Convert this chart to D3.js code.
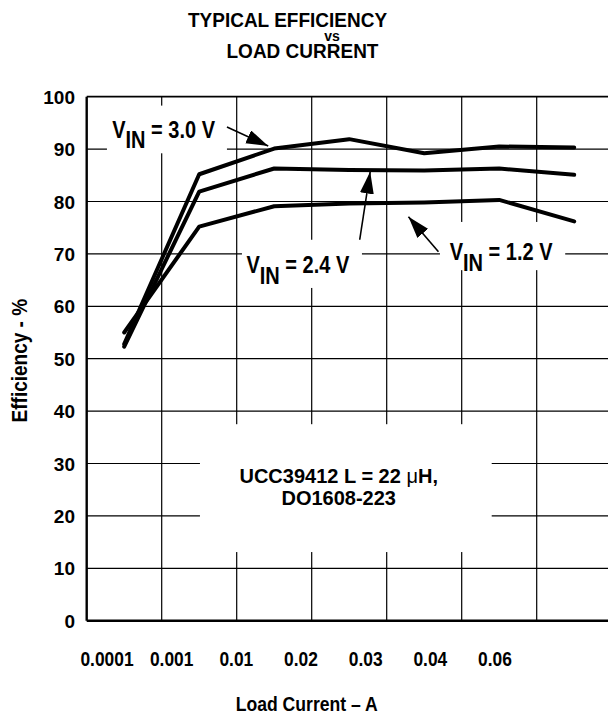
<!DOCTYPE html>
<html>
<head>
<meta charset="utf-8">
<script src="https://cdn.jsdelivr.net/npm/d3@7"></script>
<style>
  body { margin: 0; background: #fff; }
  text { font-family: "Liberation Sans", Arial, sans-serif; font-weight: bold; fill: #000; }
</style>
</head>
<body>
<script>
// Step 1: chart data
//= ================================
var loadCurrent = ["0.0001", "0.001", "0.01", "0.02", "0.03", "0.04", "0.06"];
var eff30 = [52.8, 85.2, 90.1, 91.9, 89.2, 90.5, 90.3];
var eff24 = [52.3, 81.9, 86.3, 86.0, 85.9, 86.3, 85.1];
var eff12 = [55.0, 75.2, 79.1, 79.6, 79.8, 80.3, 76.2];
var yTicks = [0, 10, 20, 30, 40, 50, 60, 70, 80, 90, 100];
var seriesLabels = ["3.0 V", "2.4 V", "1.2 V"];

// Step 2: sizes
//= ================================
var svgWidth = 608;
var svgHeight = 717;

var margin = {
  top: 96.7,
  left: 86.7,
  bottom: 96.3
};
var plotWidth = 525;
var height = svgHeight - margin.top - margin.bottom;

var svg = d3.select("body")
  .append("svg")
  .attr("width", svgWidth)
  .attr("height", svgHeight);

// Step 3: scales
//= ================================
var x = d3.scaleBand()
  .domain(loadCurrent)
  .range([margin.left, margin.left + plotWidth]);
var bw = x.bandwidth();

// tick labels sit on their own spacing in the original
var xLabel = d3.scalePoint()
  .domain(loadCurrent)
  .range([107, 495]);

var y = d3.scaleLinear()
  .domain([0, 100])
  .range([margin.top + height, margin.top]);

// fractional category index -> pixel (for annotations)
function xAt(i) {
  return margin.left + (i + 0.5) * bw;
}

// text that is a bit taller than the font (the original is stretched)
function addText(px, py, str, size, anchor, sy) {
  return svg.append("text")
    .attr("transform", `translate(${px},${py}) scale(1,${sy || 1})`)
    .attr("text-anchor", anchor || "start")
    .style("font-size", size + "px")
    .text(str);
}

// Step 4: grid
//= ================================
var grid = svg.append("g");

grid.selectAll("line.h")
  .data(yTicks.slice(1))
  .enter()
  .append("line")
  .attr("x1", margin.left)
  .attr("x2", margin.left + plotWidth)
  .attr("y1", d => y(d))
  .attr("y2", d => y(d))
  .attr("stroke", "#000")
  .attr("stroke-width", d => d === 100 ? 1.8 : 1.2);

grid.selectAll("line.v")
  .data(loadCurrent.slice(1))
  .enter()
  .append("line")
  .attr("x1", d => x(d))
  .attr("x2", d => x(d))
  .attr("y1", y(100))
  .attr("y2", y(0))
  .attr("stroke", "#000")
  .attr("stroke-width", 1.2);

// white boxes behind the labels
var boxes = [
  [-0.23, 1.37, 98.3, 89.2],
  [1.57, 3.17, 72.7, 63.5],
  [4.21, 5.88, 76.1, 66.9],
  [1.01, 4.90, 37.5, 13.1]
];
svg.selectAll("rect.box")
  .data(boxes)
  .enter()
  .append("rect")
  .attr("x", d => xAt(d[0]))
  .attr("y", d => y(d[2]))
  .attr("width", d => xAt(d[1]) - xAt(d[0]))
  .attr("height", d => y(d[3]) - y(d[2]))
  .attr("fill", "#fff");

// axes frame (left + bottom heavier)
svg.append("line")
  .attr("x1", margin.left).attr("x2", margin.left)
  .attr("y1", y(100)).attr("y2", y(0))
  .attr("stroke", "#000").attr("stroke-width", 2.4);
svg.append("line")
  .attr("x1", margin.left).attr("x2", margin.left + plotWidth)
  .attr("y1", y(0)).attr("y2", y(0))
  .attr("stroke", "#000").attr("stroke-width", 2.4);

// Step 5: curves
//= ================================
var line = d3.line()
  .x((d, i) => x(loadCurrent[i]) + bw / 2)
  .y(d => y(d));

svg.selectAll("path.curve")
  .data([eff30, eff24, eff12])
  .enter()
  .append("path")
  .attr("d", d => line(d))
  .attr("fill", "none")
  .attr("stroke", "#000")
  .attr("stroke-width", 4)
  .attr("stroke-linejoin", "round")
  .attr("stroke-linecap", "round");

// Step 6: arrows
//= ================================
svg.append("defs").append("marker")
  .attr("id", "head")
  .attr("markerUnits", "userSpaceOnUse")
  .attr("markerWidth", 24)
  .attr("markerHeight", 15)
  .attr("refX", 22)
  .attr("refY", 7)
  .attr("orient", "auto")
  .append("path")
  .attr("d", "M0,0 L22,7 L0,14 Z")
  .attr("fill", "#000");

var arrows = [
  [1.37, 94.2, 1.92, 90.6],
  [3.14, 72.7, 3.28, 85.7],
  [4.19, 70.4, 3.79, 77.1]
];
svg.selectAll("line.arrow")
  .data(arrows)
  .enter()
  .append("line")
  .attr("x1", d => xAt(d[0]))
  .attr("y1", d => y(d[1]))
  .attr("x2", d => xAt(d[2]))
  .attr("y2", d => y(d[3]))
  .attr("stroke", "#000")
  .attr("stroke-width", 1.6)
  .attr("marker-end", "url(#head)");

// Step 7: V_IN labels
//= ================================
var labelPos = [[-0.16, 92.1], [1.63, 66.3], [4.34, 68.8]];
labelPos.forEach(function(p, k) {
  var t = addText(xAt(p[0]), y(p[1]), "", 20, "start", 1.15);
  t.append("tspan").text("V");
  t.append("tspan").attr("dy", 9).text("IN");
  t.append("tspan").attr("dy", -9).text(" = " + seriesLabels[k]);
});

// note text
var note = addText(xAt(2.86), y(26.3), "", 20, "middle", 1);
note.append("tspan").text("UCC39412 L = 22 ");
note.append("tspan").style("font-weight", "normal").text("\u03bc");
note.append("tspan").text("H,");
addText(xAt(2.86), y(22.1), "DO1608-223", 20, "middle", 1);

// Step 8: tick labels
//= ================================
yTicks.forEach(function(d) {
  addText(75, y(d) + 7, d, 19, "end", 1);
});

loadCurrent.forEach(function(d) {
  addText(xLabel(d), 666, d, 17.4, "middle", 1.2);
});

// Step 9: titles
//= ================================
addText(287.5, 26.7, "TYPICAL EFFICIENCY", 19, "middle", 1.1);
addText(332, 41, "vs", 14, "middle", 1);
addText(302.5, 58.3, "LOAD CURRENT", 19, "middle", 1.1);

addText(306.7, 711, "Load Current \u2013 A", 17.6, "middle", 1.2);

svg.append("text")
  .attr("transform", "translate(27," + ((y(0) + y(100)) / 2 + 2) + ") rotate(-90) scale(1,1.2)")
  .attr("text-anchor", "middle")
  .style("font-size", "19px")
  .text("Efficiency - %");
</script>
</body>
</html>
